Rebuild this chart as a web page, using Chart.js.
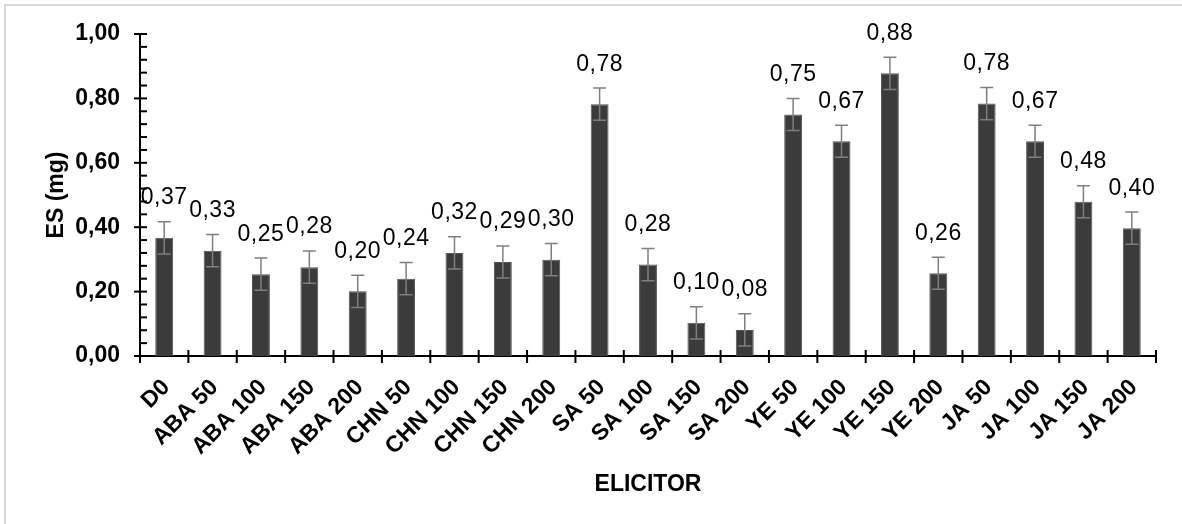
<!DOCTYPE html>
<html>
<head>
<meta charset="utf-8">
<script src="https://cdn.jsdelivr.net/npm/chart.js@4.4.1/dist/chart.umd.min.js"></script>
<style>
  html, body { margin: 0; padding: 0; background: #ffffff; overflow: hidden; }
  #wrap { width: 1182px; height: 524px; position: relative; }
</style>
</head>
<body>
<div id="wrap"><canvas id="c" width="1182" height="524"></canvas></div>
<script>
const categories = ["D0","ABA 50","ABA 100","ABA 150","ABA 200","CHN 50","CHN 100","CHN 150","CHN 200","SA 50","SA 100","SA 150","SA 200","YE 50","YE 100","YE 150","YE 200","JA 50","JA 100","JA 150","JA 200"];
const esValues = [0.367,0.327,0.254,0.276,0.201,0.240,0.320,0.292,0.299,0.782,0.284,0.103,0.081,0.750,0.667,0.878,0.257,0.784,0.667,0.479,0.397];
const esErrors = [0.05,0.05,0.05,0.05,0.05,0.05,0.05,0.05,0.05,0.05,0.05,0.05,0.05,0.05,0.05,0.05,0.05,0.05,0.05,0.05,0.05];
const yTicks = [0, 0.2, 0.4, 0.6, 0.8, 1.0];
const yMinorStep = 0.04;
const xTitle = "ELICITOR";
const yTitle = "ES (mg)";
const fmt = v => v.toFixed(2).replace('.', ',');
const decorPlugin = {
  id: 'decor',
  beforeDraw(chart) {
    const ctx = chart.ctx;
    ctx.save();
    ctx.fillStyle = '#ffffff';
    ctx.fillRect(0, 0, chart.width, chart.height);
    ctx.strokeStyle = '#d9d9d9';
    ctx.lineWidth = 2;
    ctx.beginPath();
    ctx.moveTo(5, chart.height); ctx.lineTo(5, 5); ctx.lineTo(chart.width, 5);
    ctx.stroke();
    ctx.restore();
  },
  afterDatasetsDraw(chart) {
    const ctx = chart.ctx;
    const xs = chart.scales.x, ys = chart.scales.y;
    const meta = chart.getDatasetMeta(0);
    ctx.save();
    // error bars
    ctx.strokeStyle = '#7f7f7f';
    ctx.lineWidth = 1.5;
    meta.data.forEach((bar, i) => {
      const v = esValues[i], e = esErrors[i];
      const x = bar.x;
      const yt = ys.getPixelForValue(v + e);
      const yb = ys.getPixelForValue(v - e);
      ctx.beginPath();
      ctx.moveTo(x, yt); ctx.lineTo(x, yb);
      ctx.moveTo(x - 6.5, yt); ctx.lineTo(x + 6.5, yt);
      ctx.moveTo(x - 6.5, yb); ctx.lineTo(x + 6.5, yb);
      ctx.stroke();
    });
    // value labels
    ctx.fillStyle = '#000000';
    ctx.font = '23px "Liberation Sans", Arial, sans-serif';
    try { ctx.letterSpacing = '0.5px'; } catch (err) {}
    ctx.textAlign = 'center';
    ctx.textBaseline = 'middle';
    meta.data.forEach((bar, i) => { ctx.fillText(fmt(esValues[i]), bar.x, bar.y - 40); });
    try { ctx.letterSpacing = '0px'; } catch (err) {}
    // axis tick marks (crossing majors, inner minors)
    ctx.strokeStyle = '#000000';
    ctx.lineWidth = 2;
    const left = chart.chartArea.left, bottom = chart.chartArea.bottom;
    yTicks.forEach(t => { const y = ys.getPixelForValue(t); ctx.beginPath(); ctx.moveTo(left - 6, y); ctx.lineTo(left + 7, y); ctx.stroke(); });
    for (let k = 1; k * yMinorStep < 1.0 - 1e-9; k++) {
      const t = k * yMinorStep;
      if (Math.abs(t / 0.2 - Math.round(t / 0.2)) < 1e-6) continue;
      const y = ys.getPixelForValue(t);
      ctx.beginPath(); ctx.moveTo(left, y); ctx.lineTo(left + 7, y); ctx.stroke();
    }
    for (let i = 0; i <= categories.length; i++) {
      const x = xs.getPixelForValue(i - 0.5);
      ctx.beginPath(); ctx.moveTo(x, bottom - 6); ctx.lineTo(x, bottom + 7); ctx.stroke();
    }
    ctx.restore();
  }
};
new Chart(document.getElementById('c'), {
  type: 'bar',
  data: { labels: categories, datasets: [{ data: esValues, backgroundColor: '#3b3b3b', borderColor: '#555555', borderWidth: 1, categoryPercentage: 1.0, barPercentage: 0.37 }] },
  options: {
    responsive: false, animation: false, devicePixelRatio: 1,
    layout: { padding: { left: 0, right: 26, top: 34, bottom: 0 } },
    plugins: { legend: { display: false }, tooltip: { enabled: false } },
    scales: {
      x: {
        grid: { display: false },
        border: { display: true, color: '#000000', width: 2 },
        ticks: { color: '#000000', font: { family: '"Liberation Sans", Arial, sans-serif', size: 23, weight: 'bold' }, maxRotation: 45, minRotation: 45, padding: 10, labelOffset: 2, autoSkip: false },
        title: { display: true, text: xTitle, color: '#000000', font: { family: '"Liberation Sans", Arial, sans-serif', size: 23, weight: 'bold' }, padding: { top: 0, bottom: 26 } },
        afterFit(scale) { scale.height = 168; }
      },
      y: {
        min: 0, max: 1.0,
        grid: { display: false },
        border: { display: true, color: '#000000', width: 2 },
        ticks: { stepSize: 0.2, color: '#000000', font: { family: '"Liberation Sans", Arial, sans-serif', size: 23, weight: 'bold' }, padding: 12, callback: v => fmt(v) },
        title: { display: true, text: yTitle, color: '#000000', font: { family: '"Liberation Sans", Arial, sans-serif', size: 23, weight: 'bold' }, padding: { top: 43, bottom: 0 } },
        afterFit(scale) { scale.width = 140; }
      }
    }
  },
  plugins: [decorPlugin]
});
</script>
</body>
</html>
